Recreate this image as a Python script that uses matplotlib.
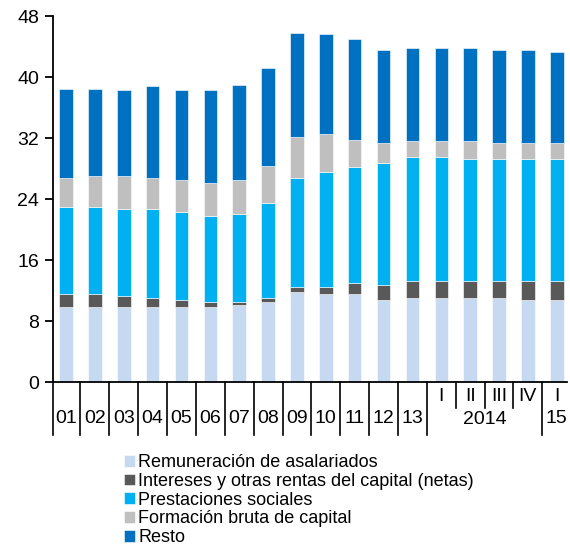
import matplotlib.pyplot as plt
import matplotlib.transforms as mtransforms
import numpy as np

plt.rcParams['font.family'] = ['Liberation Sans', 'DejaVu Sans']

periods = ['01', '02', '03', '04', '05', '06', '07', '08', '09', '10', '11', '12', '13',
           '2014 I', '2014 II', '2014 III', '2014 IV', '15 I']
quarter_labels = ['I', 'II', 'III', 'IV', 'I']
year_labels = ['01', '02', '03', '04', '05', '06', '07', '08', '09', '10', '11', '12', '13']

remuneracion = [9.8, 9.8, 9.8, 9.8, 9.8, 9.8, 10.05, 10.5, 11.8, 11.55, 11.55, 10.75, 11.0,
                11.0, 11.0, 11.0, 10.75, 10.75]
intereses = [1.7, 1.7, 1.45, 1.2, 0.9, 0.65, 0.4, 0.5, 0.65, 0.9, 1.45, 2.0, 2.25,
             2.25, 2.25, 2.25, 2.5, 2.5]
prestaciones = [11.5, 11.5, 11.5, 11.75, 11.6, 11.35, 11.6, 12.5, 14.35, 15.05, 15.25, 16.0, 16.25,
                16.25, 16.0, 16.0, 16.0, 16.0]
formacion = [3.8, 4.0, 4.25, 4.05, 4.25, 4.3, 4.5, 4.8, 5.3, 5.05, 3.55, 2.55, 2.05,
             2.05, 2.3, 2.05, 2.05, 2.05]
resto = [11.7, 11.5, 11.3, 12.0, 11.75, 12.2, 12.45, 12.95, 13.7, 13.05, 13.25, 12.2, 12.25,
         12.25, 12.25, 12.2, 12.2, 12.0]

series = [
    ('Remuneración de asalariados', remuneracion, '#C6D9F1'),
    ('Intereses y otras rentas del capital (netas)', intereses, '#595959'),
    ('Prestaciones sociales', prestaciones, '#00B0F0'),
    ('Formación bruta de capital', formacion, '#BFBFBF'),
    ('Resto', resto, '#0070C0'),
]

fig = plt.figure(figsize=(5.70, 5.47), dpi=100)
ax = fig.add_axes([0.093, 0.3016, 0.902, 0.669])

x = np.arange(len(periods))
bottom = np.zeros(len(periods))
for name, vals, col in series:
    ax.bar(x, vals, width=0.47, bottom=bottom, color=col, label=name,
           edgecolor='white', linewidth=0.4)
    bottom += np.array(vals)

ax.set_ylim(0, 48)
ax.set_yticks(range(0, 49, 8))
ax.set_xlim(-0.45, 17.36)
ax.set_xticks([])
ax.spines['top'].set_visible(False)
ax.spines['right'].set_visible(False)
ax.spines['left'].set_linewidth(1.3)
ax.spines['bottom'].set_linewidth(1.3)
ax.tick_params(axis='y', labelsize=14, length=6, width=1.3, direction='out', pad=4)

# category separators and labels below the axis
trans = mtransforms.blended_transform_factory(ax.transData, ax.transAxes)
n_years = len(year_labels)
long_sep = [-0.45] + [i + 0.5 for i in range(n_years)] + [n_years + 3.5]
short_sep = [n_years + 0.5, n_years + 1.5, n_years + 2.5]
for s in long_sep:
    ax.plot([s, s], [0, -0.145], transform=trans, color='black', lw=1.2, clip_on=False)
for s in short_sep:
    ax.plot([s, s], [0, -0.072], transform=trans, color='black', lw=1.2, clip_on=False)

fs = 14
for i, lab in enumerate(year_labels):
    ax.text(i, -0.100, lab, transform=trans, ha='center', va='center', fontsize=fs)
for j, lab in enumerate(quarter_labels):
    ax.text(n_years + j, -0.040, lab, transform=trans, ha='center', va='center', fontsize=fs)
ax.text(n_years + 1.5, -0.102, '2014', transform=trans, ha='center', va='center', fontsize=fs)
ax.text(n_years + 4, -0.100, '15', transform=trans, ha='center', va='center', fontsize=fs)

fig.legend(loc='upper left', bbox_to_anchor=(0.218, 0.170), frameon=False, fontsize=13,
           handlelength=0.62, handleheight=0.62, handletextpad=0.15, labelspacing=0.1,
           borderaxespad=0, borderpad=0)

fig.savefig('out.png', dpi=100)
